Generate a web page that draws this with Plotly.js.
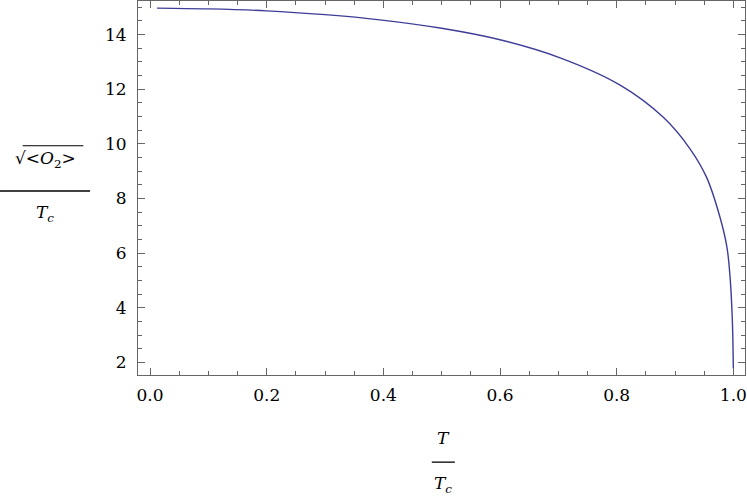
<!DOCTYPE html>
<html>
<head>
<meta charset="utf-8">
<script src="https://cdn.plot.ly/plotly-3.0.1.min.js"></script>
<style>
  body { margin: 0; background: #ffffff; }
  #chart { width: 747px; height: 501px; }
</style>
</head>
<body>
<div id="chart"></div>
<script>
// condensate vs temperature
const tOverTc = [0.012, 0.1, 0.2, 0.3, 0.394, 0.5, 0.6, 0.703, 0.806, 0.88, 0.926, 0.954, 0.977, 0.989, 0.9944, 0.9983, 1.0];
const condensate = [14.97, 14.94, 14.87, 14.73, 14.54, 14.23, 13.81, 13.15, 12.15, 10.97, 9.81, 8.78, 7.32, 6.22, 5.12, 3.54, 1.78];

const frameColor = '#666666';
const serif = 'DejaVu Serif';

const trace = {
    x: tOverTc,
    y: condensate,
    type: 'scatter',
    mode: 'lines',
    line: { color: '#3d3d99', width: 1.4, shape: 'spline', smoothing: 1 },
    hoverinfo: 'x+y'
};

function axisStyle(extra) {
    return Object.assign({
        showline: true,
        mirror: 'ticks',
        linecolor: frameColor,
        linewidth: 1,
        ticks: 'inside',
        ticklen: 7,
        tickwidth: 1,
        tickcolor: frameColor,
        showgrid: false,
        zeroline: false,
        ticklabeloverflow: 'allow',
        tickfont: { family: serif, size: 17, color: '#000000' }
    }, extra);
}

function label(x, y, text) {
    return {
        xref: 'paper', yref: 'paper', x: x, y: y,
        xanchor: 'center', yanchor: 'middle',
        text: text,
        showarrow: false,
        font: { family: serif, size: 17, color: '#000000' }
    };
}

const layout = {
    width: 747,
    height: 501,
    margin: { l: 138, r: 2, t: 1, b: 126 },
    font: { family: serif, size: 17, color: '#000000' },
    paper_bgcolor: '#ffffff',
    plot_bgcolor: '#ffffff',
    showlegend: false,
    xaxis: axisStyle({
        range: [-0.0206, 1.02],
        tick0: 0,
        dtick: 0.2,
        tickformat: '.1f',
        ticklabelstandoff: 5,
        minor: { dtick: 0.05, tick0: 0, ticks: 'inside', ticklen: 4, tickcolor: frameColor }
    }),
    yaxis: axisStyle({
        range: [1.536, 15.23],
        tick0: 0,
        dtick: 2,
        ticklabelstandoff: 7,
        minor: { dtick: 0.5, tick0: 0, ticks: 'inside', ticklen: 4, tickcolor: frameColor }
    }),
    annotations: [
        // y title: sqrt(<O2>) / Tc
        label(-0.153, 0.575, '√&lt;<i>O</i><sub>2</sub>&gt;'),
        label(-0.153, 0.433, '<i>T</i><sub><i>c</i></sub>'),
        // x title: T / Tc
        label(0.503, -0.168, '<i>T</i>'),
        label(0.503, -0.293, '<i>T</i><sub><i>c</i></sub>')
    ],
    shapes: [
        // fraction bar of y title
        { type: 'line', xref: 'paper', yref: 'paper', x0: -0.2273, x1: -0.079, y0: 0.492, y1: 0.492,
          line: { color: '#000000', width: 1.3 } },
        // radical bar over <O2>
        { type: 'line', xref: 'paper', yref: 'paper', x0: -0.19, x1: -0.09, y0: 0.613, y1: 0.613,
          line: { color: '#000000', width: 1 } },
        // fraction bar of x title
        { type: 'line', xref: 'paper', yref: 'paper', x0: 0.484, x1: 0.522, y0: -0.233, y1: -0.233,
          line: { color: '#000000', width: 1.3 } }
    ]
};

Plotly.newPlot('chart', [trace], layout, { displayModeBar: false, staticPlot: true });
</script>
</body>
</html>
